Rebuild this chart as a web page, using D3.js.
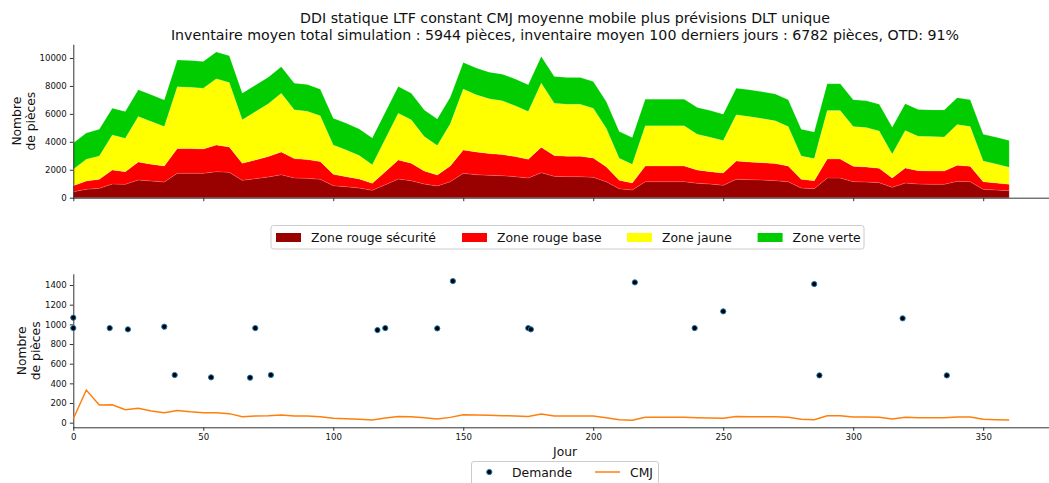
<!DOCTYPE html>
<html>
<head>
<meta charset="utf-8">
<script src="https://cdn.jsdelivr.net/npm/d3@7"></script>
<style>
  body { margin: 0; background: #fff; }
  svg { display: block; }
  text { font-family: "DejaVu Sans", sans-serif; fill: #111; }
</style>
</head>
<body>
<svg id="chart" width="1049" height="483"></svg>
<script>
// Simulation days (one point every 5 days)
const days = [0,5,10,15,20,25,30,35,40,45,50,55,60,65,70,75,80,85,90,95,
  100,105,110,115,120,125,130,135,140,145,150,155,160,165,170,175,180,185,190,195,
  200,205,210,215,220,225,230,235,240,245,250,255,260,265,270,275,280,285,290,295,
  300,305,310,315,320,325,330,335,340,345,350,355,360];

// DDMRP buffer zones (thickness of each zone, in pieces)
const zoneRougeSecurite = [430,598,669,980,956,1267,1196,1124,1745,1745,1745,1865,1817,1243,1363,1482,1650,1411,1387,1315,
  861,789,693,526,932,1339,1219,980,837,1148,1745,1650,1602,1578,1506,1411,1793,1530,1506,1506,
  1458,1148,645,550,1148,1148,1148,1148,1028,980,884,1315,1291,1267,1219,1148,693,645,1411,1411,
  1148,1124,1076,741,1052,980,956,956,1172,1148,598,550,502];
const zoneRougeBase = [430,597,646,1004,909,1291,1195,1147,1769,1769,1745,1912,1817,1220,1339,1459,1626,1387,1339,1267,
  813,717,646,502,933,1363,1244,933,789,1123,1674,1626,1554,1506,1435,1339,1817,1483,1459,1459,
  1387,1076,598,502,1123,1123,1123,1123,956,885,885,1315,1267,1243,1220,1123,622,574,1362,1362,
  1099,1076,1028,670,1076,957,957,957,1147,1099,550,502,454];
const zoneJaune = [1170,1554,1673,2510,2390,3251,3059,2820,4423,4399,4352,4735,4615,3108,3443,3778,4208,3490,3467,3275,
  2104,1913,1674,1339,2343,3347,3108,2462,2104,3013,4352,4088,3921,3850,3634,3418,4591,3753,3730,3730,
  3563,2749,1578,1339,2870,2870,2870,2870,2559,2462,2319,3300,3252,3157,3060,2822,1673,1578,3468,3468,
  2846,2821,2678,1721,2678,2462,2462,2438,2917,2846,1482,1363,1220];
const zoneVerte = [1880,1880,1910,1910,1910,1910,1910,1910,1910,1910,1910,1910,1910,1910,1910,1910,1890,1910,1910,1910,
  1900,1910,1910,1910,1910,1910,1910,1910,1910,1910,1910,1910,1910,1910,1920,1910,1910,1910,1910,1910,
  1910,1910,1910,1910,1910,1910,1910,1910,1910,1910,1890,1910,1910,1920,1920,1910,1910,1910,1910,1910,
  1910,1910,1910,1910,1910,1920,1910,1920,1910,1910,1910,1910,1910];

// Average daily usage (CMJ), same days
const cmj = [40,332,180,183,132,146,119,102,125,112,102,102,92,61,68,71,78,68,68,61,
  44,41,34,27,47,64,61,51,37,54,81,78,75,71,68,64,88,68,68,68,
  68,51,31,24,54,54,54,54,51,48,44,64,61,61,61,54,34,31,71,71,
  58,58,54,37,54,51,51,51,58,58,34,31,27];

// Individual demand orders
const demandeJours = [0,0,14,21,35,39,53,68,70,76,117,120,140,146,175,176,216,239,250,285,287,319,336];
const demandeQuantites = [1068,962,962,949,976,485,461,458,962,485,942,962,959,1440,962,949,1427,962,1132,1410,481,1061,481];

const stockTicks = [0,2000,4000,6000,8000,10000];
const demandeTicks = [0,200,400,600,800,1000,1200,1400];
const jourTicks = [0,50,100,150,200,250,300,350];

const zoneNames = ["Zone rouge sécurité","Zone rouge base","Zone jaune","Zone verte"];
const zoneColors = ["#990000","#ff0000","#ffff00","#00cc00"];
const titleLines = [
  "DDI statique LTF constant CMJ moyenne mobile plus prévisions DLT unique",
  "Inventaire moyen total simulation : 5944 pièces, inventaire moyen 100 derniers jours : 6782 pièces, OTD: 91%"
];

const svg = d3.select("#chart");

const x = d3.scaleLinear().domain([0, 378]).range([73.3, 1056]);
const yTop = d3.scaleLinear().domain([0, 10950]).range([197.7, 44.7]);
const yBot = d3.scaleLinear().domain([-47, 1509]).range([427.3, 274.3]);

// Title
svg.append("g").selectAll("text").data(titleLines).join("text")
  .attr("x", 565).attr("y", (d, i) => 22.5 + i * 17.5)
  .attr("text-anchor", "middle").style("font-size", "14.2px").text(d => d);

// ---- Top panel: stacked buffer zones ----
const rows = days.map((d, i) => ({
  jour: d,
  [zoneNames[0]]: zoneRougeSecurite[i],
  [zoneNames[1]]: zoneRougeBase[i],
  [zoneNames[2]]: zoneJaune[i],
  [zoneNames[3]]: zoneVerte[i]
}));
const series = d3.stack().keys(zoneNames)(rows);
const area = d3.area().x(d => x(d.data.jour)).y0(d => yTop(d[0])).y1(d => yTop(d[1]));

svg.append("g").selectAll("path").data(series).join("path")
  .attr("d", area).attr("fill", (d, i) => zoneColors[i])
  .attr("stroke", "rgba(255,255,255,0.25)").attr("stroke-width", 0.5);

function styleAxis(g) {
  g.selectAll(".domain").attr("stroke", "#333").attr("stroke-width", 1);
  g.selectAll(".tick line").attr("stroke", "#333");
  g.selectAll(".tick text").style("font-size", "8.6px").attr("fill", "#222")
    .style("font-family", "'DejaVu Sans', sans-serif");
}

svg.append("g").attr("transform", "translate(73.3,0)")
  .call(d3.axisLeft(yTop).tickValues(stockTicks).tickSize(3.5).tickSizeOuter(0).tickPadding(3).tickFormat(d3.format("d")))
  .call(styleAxis);
svg.append("g").attr("transform", "translate(0,197.7)")
  .call(d3.axisBottom(x).tickValues(jourTicks).tickSize(3.5).tickSizeOuter(0).tickFormat(""))
  .call(styleAxis);

svg.append("text").attr("transform", "translate(21,121.2) rotate(-90)")
  .attr("text-anchor", "middle").style("font-size", "12.3px")
  .selectAll("tspan").data(["Nombre", "de pièces"]).join("tspan")
  .attr("x", 0).attr("dy", (d, i) => i === 0 ? 0 : 14).text(d => d);

// Zone legend
const leg1 = svg.append("g");
leg1.append("rect").attr("x", 271).attr("y", 225.5).attr("width", 593).attr("height", 23.5)
  .attr("rx", 2.5).attr("fill", "rgba(255,255,255,0.8)").attr("stroke", "#cccccc");
const legX = [276, 462, 627, 757.6];
zoneNames.forEach((n, i) => {
  leg1.append("rect").attr("x", legX[i]).attr("y", 233).attr("width", 25).attr("height", 9)
    .attr("fill", zoneColors[i]);
  leg1.append("text").attr("x", legX[i] + 35).attr("y", 242).style("font-size", "12.4px").text(n);
});

// ---- Bottom panel: demand and CMJ ----
svg.append("g").attr("transform", "translate(73.3,0)")
  .call(d3.axisLeft(yBot).tickValues(demandeTicks).tickSize(3.5).tickSizeOuter(0).tickPadding(3).tickFormat(d3.format("d")))
  .call(styleAxis);
svg.append("g").attr("transform", "translate(0,427.3)")
  .call(d3.axisBottom(x).tickValues(jourTicks).tickSize(3.5).tickSizeOuter(0).tickPadding(3).tickFormat(d3.format("d")))
  .call(styleAxis);

// square caps so the left spine meets the bottom spine
svg.selectAll(".domain").attr("stroke-linecap", "square");

const line = d3.line().x((d, i) => x(days[i])).y(d => yBot(d));
svg.append("path").datum(cmj).attr("d", line).attr("fill", "none")
  .attr("stroke", "#ff7f0e").attr("stroke-width", 1.5);

svg.append("g").selectAll("circle").data(demandeJours).join("circle")
  .attr("cx", d => x(d)).attr("cy", (d, i) => yBot(demandeQuantites[i]))
  .attr("r", 2.6).attr("fill", "#000").attr("stroke", "#1f77b4").attr("stroke-width", 1);

svg.append("text").attr("transform", "translate(25.5,350.8) rotate(-90)")
  .attr("text-anchor", "middle").style("font-size", "12.3px")
  .selectAll("tspan").data(["Nombre", "de pièces"]).join("tspan")
  .attr("x", 0).attr("dy", (d, i) => i === 0 ? 0 : 14).text(d => d);

svg.append("text").attr("x", 565).attr("y", 456).attr("text-anchor", "middle")
  .style("font-size", "12.3px").text("Jour");

// Demand legend
const leg2 = svg.append("g");
leg2.append("rect").attr("x", 471.5).attr("y", 461.5).attr("width", 187).attr("height", 24)
  .attr("rx", 2.5).attr("fill", "rgba(255,255,255,0.8)").attr("stroke", "#cccccc");
leg2.append("circle").attr("cx", 489.3).attr("cy", 472).attr("r", 2.6)
  .attr("fill", "#000").attr("stroke", "#1f77b4").attr("stroke-width", 1);
leg2.append("text").attr("x", 512).attr("y", 477).style("font-size", "12.4px").text("Demande");
leg2.append("line").attr("x1", 595).attr("x2", 620).attr("y1", 472).attr("y2", 472)
  .attr("stroke", "#ff7f0e").attr("stroke-width", 1.5);
leg2.append("text").attr("x", 630).attr("y", 477).style("font-size", "12.4px").text("CMJ");
</script>
</body>
</html>
